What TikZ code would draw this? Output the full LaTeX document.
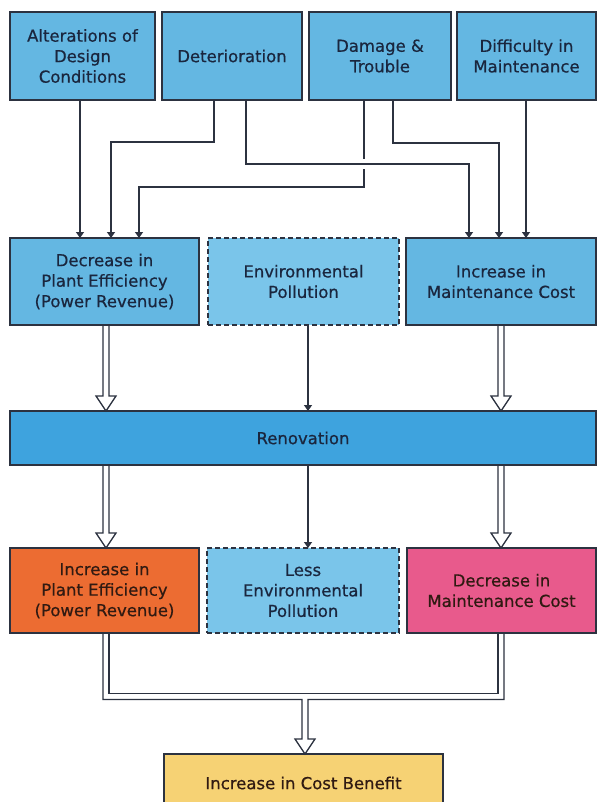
\documentclass[tikz,border=0pt]{standalone}
\usepackage{fontspec}
\setmainfont{DejaVu Sans}
\newfontfamily\boxfont{DejaVu Sans}[BoldFont=DejaVu Sans, BoldFeatures={FakeBold=0.6}]
\usetikzlibrary{arrows.meta,calc}
\definecolor{topblue}{RGB}{100,183,226}
\definecolor{renblue}{RGB}{62,163,222}
\definecolor{paleblue}{RGB}{122,197,234}
\definecolor{boxorange}{RGB}{236,108,50}
\definecolor{boxpink}{RGB}{232,90,140}
\definecolor{boxyellow}{RGB}{246,210,116}
\definecolor{linec}{RGB}{44,50,64}
\definecolor{txt}{RGB}{26,38,62}
\definecolor{txtwarm}{RGB}{48,26,18}
\tikzset{
  box/.style={draw=linec, line width=1.3pt, fill=topblue, inner sep=0pt, outer sep=0pt,
    align=center, text=txt, font=\boxfont\bfseries\fontsize{16.5}{20.5}\selectfont},
  dashbox/.style={box, fill=paleblue, dash pattern=on 5pt off 3pt},
  conn/.style={draw=linec, line width=1.3pt},
  arr/.style={conn, -{Triangle[width=8pt,length=6pt]}},
}
% hollow (outlined) arrow: #1 = x, #2 = start anchor, #3 = end anchor
\newcommand\hollowarrow[3]{%
  \coordinate (hs) at (#2 -| #1,0);
  \coordinate (ht) at (#3 -| #1,0);
  \draw[conn] ($(hs)+(-3,0)$) -- ($(ht)+(-3,-15)$) -- ($(ht)+(-10,-15)$) -- (ht)
    -- ($(ht)+(10,-15)$) -- ($(ht)+(3,-15)$) -- ($(hs)+(3,0)$);
}
\begin{document}
\begin{tikzpicture}[x=1pt,y=-1pt]
\useasboundingbox (0,0) rectangle (597,802);
\fill[white] (0,0) rectangle (597,802);
\clip (0,0) rectangle (597,802);

% top row
\node[box, minimum width=145, minimum height=88] (alt) at (82.5,56) {Alterations of\\Design\\Conditions};
\node[box, minimum width=140, minimum height=88] (det) at (232,56) {Deterioration};
\node[box, minimum width=142, minimum height=88] (dmg) at (380,56) {Damage \&\\Trouble};
\node[box, minimum width=139, minimum height=88] (dif) at (526.5,56) {Difficulty in\\Maintenance};

% middle row
\node[box, minimum width=189, minimum height=87] (dpe) at (104.5,281.5) {Decrease in\\Plant Efficiency\\(Power Revenue)};
\node[dashbox, minimum width=191, minimum height=87] (env) at (303.5,281.5) {Environmental\\Pollution};
\node[box, minimum width=190, minimum height=87] (imc) at (501,281.5) {Increase in\\Maintenance Cost};

% renovation
\node[box, fill=renblue, minimum width=586, minimum height=54] (ren) at (303,438) {Renovation};

% bottom row
\node[box, fill=boxorange, text=txtwarm, minimum width=189, minimum height=85] (ipe) at (104.5,590.5) {Increase in\\Plant Efficiency\\(Power Revenue)};
\node[dashbox, minimum width=192, minimum height=85] (lep) at (303,590.5) {Less\\Environmental\\Pollution};
\node[box, fill=boxpink, text=txtwarm, minimum width=189, minimum height=85] (dmc) at (501.5,590.5) {Decrease in\\Maintenance Cost};

% final
\node[box, fill=boxyellow, text=txtwarm, minimum width=279, minimum height=58] (cb) at (303.5,783) {Increase in Cost Benefit};

% top connectors
\draw[arr] (alt.south -| 80,0) -- (dpe.north -| 80,0);
\draw[arr] (det.south -| 214,0) -- (214,142) -- (111,142) -- (dpe.north -| 111,0);
\draw[arr] (dmg.south -| 364,0) -- (364,187) -- (139,187) -- (dpe.north -| 139,0);
\draw[white, line width=10pt] (361,164) -- (367,164);
\draw[arr] (det.south -| 246,0) -- (246,164) -- (469,164) -- (imc.north -| 469,0);
\draw[arr] (dmg.south -| 393,0) -- (393,143) -- (499,143) -- (imc.north -| 499,0);
\draw[arr] (dif.south -| 526,0) -- (imc.north -| 526,0);

% middle connectors
\hollowarrow{106}{dpe.south}{ren.north}
\hollowarrow{501}{imc.south}{ren.north}
\draw[arr] (env.south -| 308,0) -- (ren.north -| 308,0);

% renovation outputs
\hollowarrow{106}{ren.south}{ipe.north}
\hollowarrow{501}{ren.south}{dmc.north}
\draw[arr] (ren.south -| 308,0) -- (lep.north -| 308,0);

% merge to cost benefit
\coordinate (bl) at (ipe.south -| 106,0);
\coordinate (br) at (dmc.south -| 501,0);
\coordinate (j) at (305,696.5);
\coordinate (ct) at (cb.north -| 305,0);
\draw[conn] ($(bl)+(-3,0)$) |- ($(j)+(-3,3)$) -- ($(ct)+(-3,-15)$) -- ($(ct)+(-10,-15)$) -- (ct)
  -- ($(ct)+(10,-15)$) -- ($(ct)+(3,-15)$) -- ($(j)+(3,3)$) -| ($(br)+(3,0)$);
\draw[conn] ($(bl)+(3,0)$) |- ($(j)+(0,-3)$) -| ($(br)+(-3,0)$);
\end{tikzpicture}
\end{document}
